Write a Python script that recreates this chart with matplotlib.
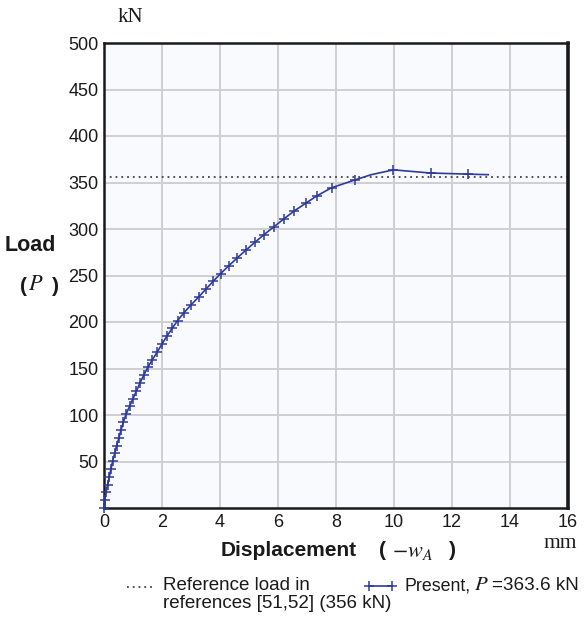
import matplotlib
matplotlib.use("Agg")
import matplotlib.pyplot as plt
from matplotlib.lines import Line2D

plt.rcParams["font.family"] = ["Liberation Sans", "DejaVu Sans"]
plt.rcParams["mathtext.fontset"] = "stix"

# Load-displacement response (displacement -w_A in mm, load P in kN)
disp_loading = [0.0, 0.023, 0.069, 0.126, 0.184, 0.241, 0.299, 0.368, 0.437,
                0.517, 0.586, 0.67, 0.76, 0.88, 1.00, 1.12, 1.24, 1.37, 1.51,
                1.67, 1.84, 2.00, 2.17, 2.35, 2.54, 2.76, 3.00, 3.26, 3.51,
                3.76, 4.02, 4.30, 4.59, 4.89, 5.20, 5.52, 5.86, 6.20, 6.55,
                6.95, 7.36, 7.85, 8.66]
load_loading = [0.0, 8.4, 16.8, 25.2, 33.6, 42.0, 50.4, 58.8, 67.2, 75.6,
                84.0, 92.4, 100.8, 109.2, 117.6, 126.0, 134.4, 142.8, 151.2,
                159.6, 168.0, 176.4, 184.8, 193.2, 201.6, 210.0, 218.4, 226.8,
                235.2, 243.6, 252.0, 260.4, 268.8, 277.2, 285.6, 294.0, 302.4,
                310.8, 319.2, 327.6, 336.0, 344.4, 352.8]
disp_peak = [9.98, 11.26, 12.56]
load_peak = [363.6, 360.2, 359.0]
disp_bend = 9.2
load_bend = 358.3
disp_end = 13.25
load_end = 358.4

reference_load = 356.0
present_load = 363.6

x_ticks = [0, 2, 4, 6, 8, 10, 12, 14, 16]
y_ticks = [50, 100, 150, 200, 250, 300, 350, 400, 450, 500]

curve_color = "#2e3a9c"
text_color = "#1a1a1a"
W, H = 588, 617

fig = plt.figure(figsize=(W / 100, H / 100), dpi=100, facecolor="white")
ax = fig.add_axes([104 / W, 1 - 508 / H, 464 / W, 465 / H])
ax.set_facecolor("#f9fafd")

ax.set_xlim(0, 16)
ax.set_ylim(0, 500)
ax.set_xticks(x_ticks)
ax.set_yticks(y_ticks)
ax.grid(True, color="#cfcfd2", linewidth=1.4)
ax.set_axisbelow(True)
for side in ["left", "right", "top", "bottom"]:
    ax.spines[side].set_color(text_color)
    ax.spines[side].set_linewidth(1.8)
ax.spines["right"].set_linewidth(2.6)
ax.tick_params(length=0, labelsize=13, pad=4, colors=text_color)

# reference load line
ax.axhline(reference_load, color="#444444", linestyle=(0, (1, 2.2)),
           linewidth=1.3, zorder=2)

# full curve: loading branch, bend, post-peak, end
line_x = disp_loading + [disp_bend] + disp_peak + [disp_end]
line_y = load_loading + [load_bend] + load_peak + [load_end]
ax.plot(line_x, line_y, color=curve_color, linewidth=1.2, zorder=3,
        clip_on=False)
mark_x = disp_loading + disp_peak
mark_y = load_loading + load_peak
ax.plot(mark_x, mark_y, linestyle="none", marker="+", markersize=7,
        markeredgewidth=1.1, color=curve_color, zorder=4, clip_on=False)


def fx(px):
    return px / W


def fy(py):
    return 1 - py / H


# axis units and titles
fig.text(fx(130), fy(18), "kN", family="Liberation Serif", fontsize=15,
         ha="center", va="center", color=text_color)
fig.text(fx(560), fy(544), "mm", family="Liberation Serif", fontsize=15.5,
         ha="center", va="center", color=text_color)
fig.text(fx(30.5), fy(245), "Load", fontsize=15.5, fontweight="bold",
         ha="center", va="center", color=text_color)
fig.text(fx(23.5), fy(287), "(", fontsize=15, fontweight="bold",
         ha="center", va="center", color=text_color)
fig.text(fx(36), fy(285), "$P$", fontsize=16, ha="center", va="center",
         color=text_color)
fig.text(fx(55), fy(287), ")", fontsize=15, fontweight="bold",
         ha="center", va="center", color=text_color)

fig.text(fx(289), fy(551), "Displacement", fontsize=15, fontweight="bold",
         ha="center", va="center", color=text_color)
fig.text(fx(382), fy(551), "(", fontsize=15, fontweight="bold",
         ha="center", va="center", color=text_color)
fig.text(fx(412), fy(551), r"$-w_A$", fontsize=16, ha="center",
         va="center", color=text_color)
fig.text(fx(452), fy(551), ")", fontsize=15, fontweight="bold",
         ha="center", va="center", color=text_color)

# legend below the axes
fig.add_artist(Line2D([fx(127), fx(155)], [fy(587), fy(587)],
                      color="#444444", linestyle=(0, (1, 2.2)),
                      linewidth=1.3))
fig.text(fx(163), fy(586), "Reference load in", fontsize=13.5,
         ha="left", va="center", color=text_color)
fig.text(fx(163), fy(603), "references [51,52] (%g kN)" % reference_load,
         fontsize=13.5, ha="left", va="center", color=text_color)

fig.add_artist(Line2D([fx(369), fx(392)], [fy(586), fy(586)],
                      color=curve_color, linewidth=1.2, marker="+",
                      markersize=7, markeredgewidth=1.1))
fig.text(fx(405), fy(586), "Present,", fontsize=12.8, ha="left",
         va="center", color=text_color)
fig.text(fx(481), fy(585), "$P$", fontsize=15, ha="center", va="center",
         color=text_color)
fig.text(fx(492), fy(586), "=%.1f kN" % present_load, fontsize=13.6,
         ha="left", va="center", color=text_color)

fig.savefig("out.png", dpi=100, facecolor="white")
